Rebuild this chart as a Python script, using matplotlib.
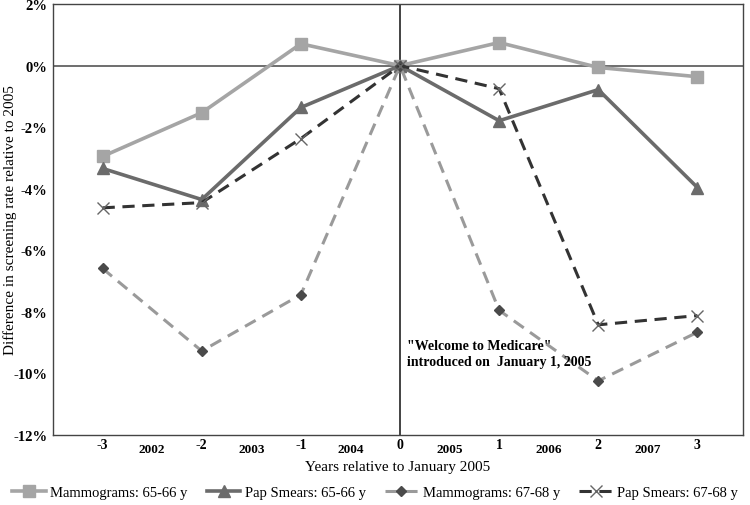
import matplotlib
matplotlib.use("Agg")
import matplotlib.pyplot as plt
from matplotlib.ticker import FuncFormatter

years_rel = [-3, -2, -1, 0, 1, 2, 3]
mammo_65 = [-2.95, -1.53, 0.71, 0.0, 0.75, -0.06, -0.36]
pap_65 = [-3.34, -4.35, -1.36, 0.0, -1.79, -0.78, -3.96]
mammo_67 = [-6.59, -9.27, -7.44, 0.0, -7.95, -10.24, -8.66]
pap_67 = [-4.62, -4.45, -2.37, 0.0, -0.75, -8.42, -8.12]
year_labels = ["2002", "2003", "2004", "2005", "2006", "2007"]
year_pos = [-2.5, -1.5, -0.5, 0.5, 1.5, 2.5]

plt.rcParams['font.family'] = ['Liberation Serif', 'DejaVu Serif']

fig = plt.figure(figsize=(7.5, 5.06), dpi=100)
ax = fig.add_axes([0.0707, 0.1383, 0.92, 0.8517])

ax.plot(years_rel, mammo_65, color='#a5a5a5', lw=2.6, marker='s', ms=8,
        label='Mammograms: 65-66 y', zorder=3)
ax.plot(years_rel, pap_65, color='#6b6b6b', lw=2.6, marker='^', ms=9,
        label='Pap Smears: 65-66 y', zorder=3)
ax.plot(years_rel, mammo_67, color='#9a9a9a', lw=2.2, ls=(0, (4, 2.5)), marker='D',
        ms=5.5, mfc='#4a4a4a', mec='#4a4a4a', label='Mammograms: 67-68 y', zorder=3)
ax.plot(years_rel, pap_67, color='#333333', lw=2.2, ls=(0, (4, 2.5)), marker='x',
        ms=9, mec='#666666', mew=1.0, label='Pap Smears: 67-68 y', zorder=3)

ax.axhline(0, color='#555555', lw=1.2, zorder=2)
ax.axvline(0, color='#222222', lw=1.2, zorder=2)

ax.set_xlim(-3.5, 3.46)
ax.set_ylim(-12, 2)
ax.set_yticks(range(-12, 3, 2))
ax.yaxis.set_major_formatter(FuncFormatter(lambda v, p: f"{int(v)}%"))
ax.set_xticks(years_rel)
ax.set_xticklabels([str(v) for v in years_rel], fontweight='bold', fontsize=10)
for lab in ax.get_yticklabels():
    lab.set_fontweight('bold')
    lab.set_fontsize(10.5)
ax.tick_params(length=0, pad=4)
ax.tick_params(axis='x', pad=2)

for pos, lab in zip(year_pos, year_labels):
    ax.text(pos, -0.018, lab, transform=ax.get_xaxis_transform(), ha='center', va='top',
            fontsize=9.5, fontweight='bold')

for s in ax.spines.values():
    s.set_color('#444444')
    s.set_linewidth(1.0)

fig.text(0.014, 0.565, 'Difference in screening rate relative to 2005', fontsize=11,
         rotation=90, ha='center', va='center')
fig.text(0.53, 0.077, 'Years relative to January 2005', fontsize=11,
         ha='center', va='center')

ax.text(0.07, -9.35, '"Welcome to Medicare"\nintroduced on  January 1, 2005',
        fontsize=10, fontweight='bold', ha='left', va='center', linespacing=1.3)

fig.legend(loc='lower center', ncol=4, frameon=False, fontsize=10.5,
           bbox_to_anchor=(0.5, -0.005), handlelength=2.3, columnspacing=1.3,
           handletextpad=0.3, borderaxespad=0.2)

fig.savefig('out.png', dpi=100)
